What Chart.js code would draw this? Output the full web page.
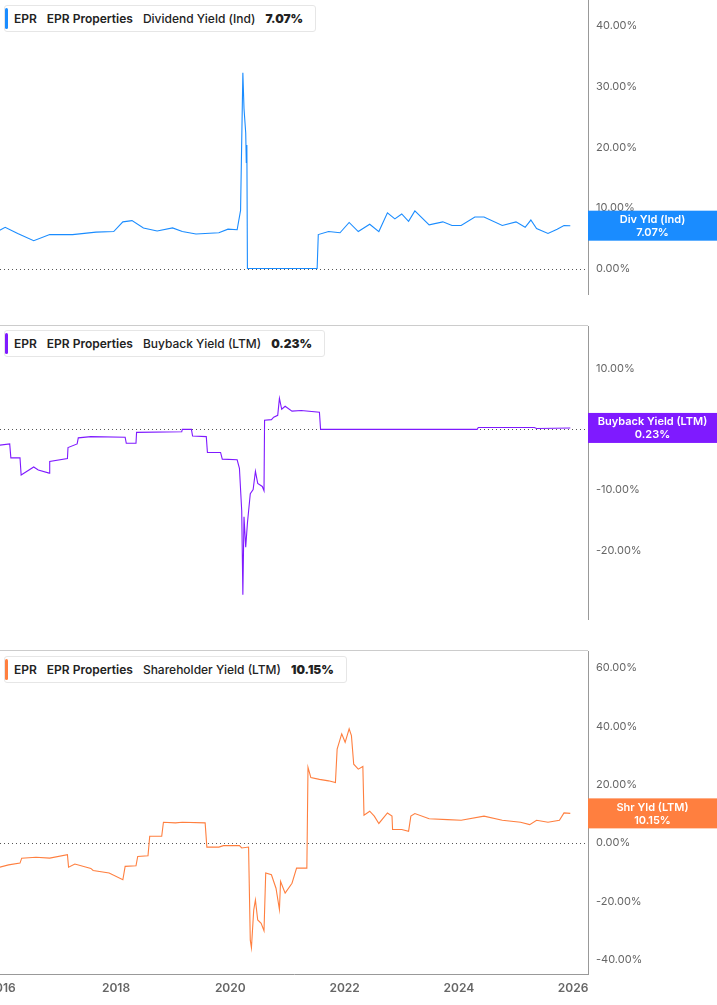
<!DOCTYPE html>
<html>
<head>
<meta charset="utf-8">
<script src="https://cdn.jsdelivr.net/npm/chart.js@4"></script>
<style>
  body { margin: 0; background: #fff; font-family: Inter, "Noto Sans", sans-serif; }
  .panel { position: absolute; left: 0; width: 717px; }
  .legenda { position: absolute; left: 4px; top: 5px; background: #fff; border: 1px solid #e6e6e6; border-radius: 3px;
    font-size: 12px; font-weight: 600; color: #222; padding: 5px 12px 5px 9px; white-space: nowrap; z-index: 2; }
  .legenda:before { content: ""; position: absolute; left: 0; top: 2px; bottom: 2px; width: 3px; border-radius: 2px; background: var(--cor); }
  .legenda span { margin-right: 10px; }
  .legenda .nome { font-weight: 500; }
  .sep { position: absolute; left: 0; width: 588px; height: 1px; background: #ccc; }
</style>
</head>
<body>
<div class="panel" style="top:0;height:325px"><div class="legenda" style="--cor:#1a8cff"><span>EPR</span><span>EPR Properties</span><span class="nome">Dividend Yield (Ind)</span><b>7.07%</b></div><canvas id="g1"></canvas></div>
<div class="sep" style="top:325px"></div>
<div class="panel" style="top:326px;height:324px"><div class="legenda" style="--cor:#7f1aff;top:4px"><span>EPR</span><span>EPR Properties</span><span class="nome">Buyback Yield (LTM)</span><b>0.23%</b></div><canvas id="g2"></canvas></div>
<div class="sep" style="top:650px"></div>
<div class="panel" style="top:651px;height:354px"><div class="legenda" style="--cor:#ff7f3f"><span>EPR</span><span>EPR Properties</span><span class="nome">Shareholder Yield (LTM)</span><b>10.15%</b></div><canvas id="g3"></canvas></div>
<script>
// --- DADOS (ano decimal, % ) ---
const divAnos = [2015.96,2016.06,2016.28,2016.56,2016.84,2017.24,2017.65,2017.96,2018.12,2018.28,2018.48,2018.72,2018.99,2019.16,2019.40,2019.80,2019.96,2020.12,2020.18,2020.22,2020.24,2020.27,2020.28,2020.29,2020.30,2021.52,2021.54,2021.72,2021.92,2022.08,2022.24,2022.44,2022.60,2022.75,2022.88,2023.00,2023.12,2023.23,2023.48,2023.72,2023.88,2024.04,2024.28,2024.44,2024.76,2025.00,2025.16,2025.26,2025.36,2025.56,2025.72,2025.84,2025.95];
const divValores = [6.3,6.8,5.8,4.6,5.6,5.6,6.0,6.1,7.7,7.9,6.7,6.2,6.7,6.1,5.7,5.9,6.5,6.4,9.6,32.3,26.4,22.4,17.5,20.4,0,0,5.6,6.1,5.9,7.6,6.1,7.3,6.1,9.2,8.2,9.0,7.8,9.5,7.2,7.7,7.1,7.1,8.5,8.5,7.1,7.7,6.8,8.0,6.6,5.8,6.5,7.1,7.07];

const recAnos = [2015.96,2016.14,2016.16,2016.32,2016.34,2016.56,2016.64,2016.83,2016.84,2017.15,2017.16,2017.32,2017.34,2017.56,2018.16,2018.18,2018.35,2018.36,2019.15,2019.16,2019.32,2019.34,2019.58,2019.60,2019.83,2019.86,2020.12,2020.16,2020.20,2020.22,2020.24,2020.27,2020.30,2020.35,2020.40,2020.44,2020.48,2020.56,2020.59,2020.60,2020.72,2020.76,2020.83,2020.86,2020.90,2020.96,2021.08,2021.24,2021.56,2021.58,2024.32,2024.34,2025.32,2025.36,2025.95];
const recValores = [-2.6,-2.4,-4.7,-4.7,-7.5,-6.2,-6.7,-7.2,-5.3,-4.8,-3.0,-2.4,-1.4,-1.2,-1.3,-2.3,-2.3,-0.5,-0.4,0,0,-1.1,-1.2,-3.8,-3.8,-4.9,-5.0,-6.4,-13.4,-27.2,-14.4,-19.4,-15.4,-10.6,-9.9,-6.9,-8.9,-9.4,-10.1,1.5,1.6,2.0,2.3,5.1,3.3,3.8,3.0,3.1,2.8,0,0,0.3,0.3,0.15,0.23];

const acAnos = [2015.96,2016.12,2016.32,2016.35,2016.60,2016.84,2017.15,2017.17,2017.28,2017.56,2017.60,2017.88,2018.12,2018.16,2018.35,2018.38,2018.56,2018.59,2018.80,2018.83,2019.04,2019.16,2019.56,2019.59,2019.80,2019.88,2020.16,2020.20,2020.32,2020.35,2020.37,2020.41,2020.44,2020.48,2020.54,2020.59,2020.62,2020.72,2020.80,2020.86,2020.88,2020.96,2021.08,2021.16,2021.34,2021.36,2021.41,2021.56,2021.72,2021.84,2021.87,2021.95,2022.01,2022.08,2022.12,2022.16,2022.24,2022.32,2022.34,2022.44,2022.52,2022.60,2022.75,2022.83,2022.84,2023.00,2023.12,2023.16,2023.23,2023.48,2023.80,2024.04,2024.44,2024.76,2025.08,2025.24,2025.36,2025.56,2025.76,2025.84,2025.95];
const acValores = [-8.3,-7.5,-6.9,-5.2,-4.9,-5.2,-4.0,-8.3,-7.2,-8.7,-9.4,-10.3,-12.6,-8.0,-7.8,-4.6,-4.4,2.3,2.3,7.1,6.9,7.1,6.9,-1.4,-1.4,-0.9,-0.9,-1.7,-1.4,-33.3,-35.9,-23.0,-19.5,-26.4,-27.5,-30.1,-10.3,-10.9,-15.5,-22.8,-13.2,-17.2,-13.8,-8.6,-8.6,25.9,22.4,21.8,21.3,20.7,32.2,37.4,34.5,39.1,36.8,27.0,25.3,26.2,9.5,10.9,9.2,6.7,10.3,9.2,4.6,4.6,4.0,9.2,10.1,8.3,8.0,7.8,9.2,7.8,7.1,6.3,7.8,7.1,7.8,10.3,10.15];

const anosTicks = [2016,2018,2020,2022,2024,2026];

// --- PLUGINS ---
const linhaZero = {
  id: 'linhaZero',
  beforeDatasetsDraw(chart) {
    const { ctx, chartArea, scales } = chart;
    const y = Math.round(scales.y.getPixelForValue(0)) + 0.5;
    ctx.save();
    ctx.strokeStyle = '#555';
    ctx.lineWidth = 1;
    ctx.setLineDash([1, 3]);
    ctx.beginPath(); ctx.moveTo(chartArea.left, y); ctx.lineTo(chartArea.right, y); ctx.stroke();
    ctx.restore();
  }
};

const etiqueta = {
  id: 'etiqueta',
  afterDraw(chart, args, opts) {
    const { ctx, chartArea, scales } = chart;
    const y = scales.y.getPixelForValue(opts.valor);
    ctx.save();
    ctx.fillStyle = opts.cor;
    ctx.fillRect(chartArea.right, y - 15, chart.width - chartArea.right, 30);
    ctx.fillStyle = '#fff';
    ctx.font = '600 11px Inter, "Noto Sans", sans-serif';
    ctx.textAlign = 'center';
    ctx.textBaseline = 'middle';
    const cx = (chartArea.right + chart.width) / 2;
    ctx.fillText(opts.titulo, cx, y - 6);
    ctx.fillText(opts.valor.toFixed(2) + '%', cx, y + 7);
    ctx.restore();
  }
};

function criarGrafico(id, anos, valores, cor, min, max, passo, titulo, ultimo, mostrarX) {
  return new Chart(document.getElementById(id), {
    type: 'line',
    data: { datasets: [{ data: anos.map((a, i) => ({ x: a, y: valores[i] })), borderColor: cor, borderWidth: 1.1, pointRadius: 0, tension: 0 }] },
    options: {
      responsive: true, maintainAspectRatio: false, animation: false,
      layout: { padding: 0 },
      plugins: { legend: { display: false }, tooltip: { enabled: false },
        etiqueta: { cor: cor, titulo: titulo, valor: ultimo } },
      scales: {
        x: { type: 'linear', min: 2015.97, max: 2026.26, display: mostrarX,
          afterBuildTicks: s => { s.ticks = anosTicks.map(v => ({ value: v })); },
          afterFit: s => { s.height = 31; s.paddingLeft = 0; s.paddingRight = 0; },
          grid: { display: false, drawTicks: true, tickLength: 5, color: '#999' },
          border: { color: '#999' },
          ticks: { color: '#666', font: { size: 12, weight: '600', family: 'Inter' }, callback: v => String(v), padding: 2, maxRotation: 0 } },
        y: { position: 'right', min: min, max: max,
          afterFit: s => { s.width = 129; s.paddingTop = 0; s.paddingBottom = 0; },
          afterBuildTicks: s => { s.ticks = s.ticks.filter(t => Math.abs(t.value / passo - Math.round(t.value / passo)) < 1e-6); },
          grid: { display: false, drawTicks: true, tickLength: 3 },
          border: { color: '#999' },
          ticks: { stepSize: passo, color: '#666', font: { size: 11, family: 'Inter' }, padding: 5,
            callback: v => v.toFixed(2) + '%' } }
      }
    },
    plugins: [linhaZero, etiqueta]
  });
}

criarGrafico('g1', divAnos, divValores, '#1a8cff', -4.2, 44.3, 10, 'Div Yld (Ind)', 7.07, false);
criarGrafico('g2', recAnos, recValores, '#7f1aff', -31.2, 17, 10, 'Buyback Yield (LTM)', 0.23, false);
criarGrafico('g3', acAnos, acValores, '#ff7f3f', -44.9, 65.8, 20, 'Shr Yld (LTM)', 10.15, true);
</script>
</body>
</html>
